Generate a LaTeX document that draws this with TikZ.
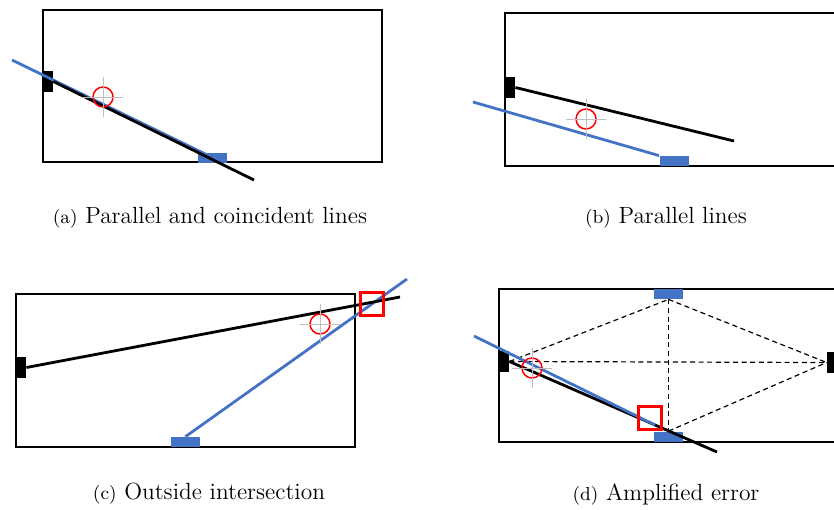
\documentclass[tikz,border=0pt]{standalone}
\definecolor{lineblue}{HTML}{4472C4}
\newcommand{\tagfont}{\fontsize{9.4}{11}\selectfont}
\begin{document}
\begin{tikzpicture}[x=0.5pt,y=-0.5pt,
    frame/.style={line width=0.8pt},
    blackmark/.style={fill=black,inner sep=0pt,minimum width=5pt,minimum height=10.5pt},
    bluemark/.style={fill=lineblue,inner sep=0pt,minimum width=14.5pt,minimum height=5pt},
    kline/.style={line width=1.4pt},
    uline/.style={draw=lineblue,line width=1.4pt},
    target/.style={draw=red,circle,line width=0.75pt,inner sep=0pt,minimum size=10pt},
    cross/.style={draw=black!25,line width=0.5pt},
    hit/.style={draw=red,line width=1.8pt,inner sep=0pt,minimum size=11.5pt},
    guide/.style={dash pattern=on 2.5pt off 1.8pt,line width=0.6pt},
    caption/.style={font=\fontsize{11.7}{14}\selectfont}]
  \useasboundingbox (0,0) rectangle (834,509);

  % (a)
  \draw[frame] (43,10) rectangle (382,162);
  \node[blackmark] (a-lm) at (48,81.5) {};
  \node[bluemark] (a-bm) at (212.5,157.5) {};
  \coordinate (a-start) at (12,60);
  \coordinate (a-end) at (254,180);
  \draw[uline] (a-start) -- (a-bm.center);
  \draw[kline] (a-lm.east) -- (a-end);
  \node[target] (a-t) at (103,97) {};
  \draw[cross] ([xshift=-10pt]a-t.center) -- ([xshift=10pt]a-t.center);
  \draw[cross] ([yshift=10pt]a-t.center) -- ([yshift=-10pt]a-t.center);
  \node[caption] (cap-a) at (210,218) {{\tagfont(a)} Parallel and coincident lines};

  % (b)
  \draw[frame] (836,13) -- (505,13) -- (505,166) -- (836,166);
  \node[blackmark] (b-lm) at (510,87.5) {};
  \node[bluemark] (b-bm) at (674,161) {};
  \coordinate (b-start) at (473,102);
  \coordinate (b-end) at (734,141);
  \draw[uline] (b-start) -- (b-bm.north west);
  \draw[kline] (b-lm.east) -- (b-end);
  \node[target] (b-t) at (586,119) {};
  \draw[cross] ([xshift=-10pt]b-t.center) -- ([xshift=10pt]b-t.center);
  \draw[cross] ([yshift=10pt]b-t.center) -- ([yshift=-10pt]b-t.center);
  \node[caption] (cap-b) at (666,218) {{\tagfont(b)} Parallel lines};

  % (c)
  \draw[frame] (16,294) rectangle (355,447);
  \node[blackmark] (c-lm) at (21,367.5) {};
  \node[bluemark] (c-bm) at (185.5,442) {};
  \coordinate (c-bend) at (407,279);
  \coordinate (c-kend) at (400,297);
  \draw[uline] (c-bm.north) -- (c-bend);
  \draw[kline] (c-lm.east) -- (c-kend);
  \node[target] (c-t) at (320,324) {};
  \draw[cross] ([xshift=-10pt]c-t.center) -- ([xshift=10pt]c-t.center);
  \draw[cross] ([yshift=10pt]c-t.center) -- ([yshift=-10pt]c-t.center);
  \node[hit] (c-x) at (372,304) {};
  \node[caption] (cap-c) at (209,494) {{\tagfont(c)} Outside intersection};

  % (d)
  \draw[frame] (836,289) -- (499,289) -- (499,442) -- (836,442);
  \node[blackmark] (d-lm) at (504,361.5) {};
  \node[blackmark] (d-rm) at (832,362.5) {};
  \node[bluemark] (d-tm) at (668.5,294) {};
  \node[bluemark] (d-bm) at (668.5,436.5) {};
  \draw[guide] (d-lm.east) -- (d-tm.south);
  \draw[guide] (d-tm.south) -- (d-rm.west);
  \draw[guide] (d-lm.east) -- (d-rm.west);
  \draw[guide] (d-tm.south) -- (d-bm.north);
  \draw[guide] (d-bm.north) -- (d-rm.west);
  \coordinate (d-start) at (474,336);
  \coordinate (d-bend) at (655,425);
  \coordinate (d-kend) at (717,452);
  \draw[kline] (d-lm.east) -- (d-kend);
  \draw[uline] (d-start) -- (d-bend);
  \node[target] (d-t) at (532,368) {};
  \draw[cross] ([xshift=-10pt]d-t.center) -- ([xshift=10pt]d-t.center);
  \draw[cross] ([yshift=10pt]d-t.center) -- ([yshift=-10pt]d-t.center);
  \node[hit] (d-x) at (650,418) {};
  \node[caption] (cap-d) at (666,494) {{\tagfont(d)} Amplified error};
\end{tikzpicture}
\end{document}
